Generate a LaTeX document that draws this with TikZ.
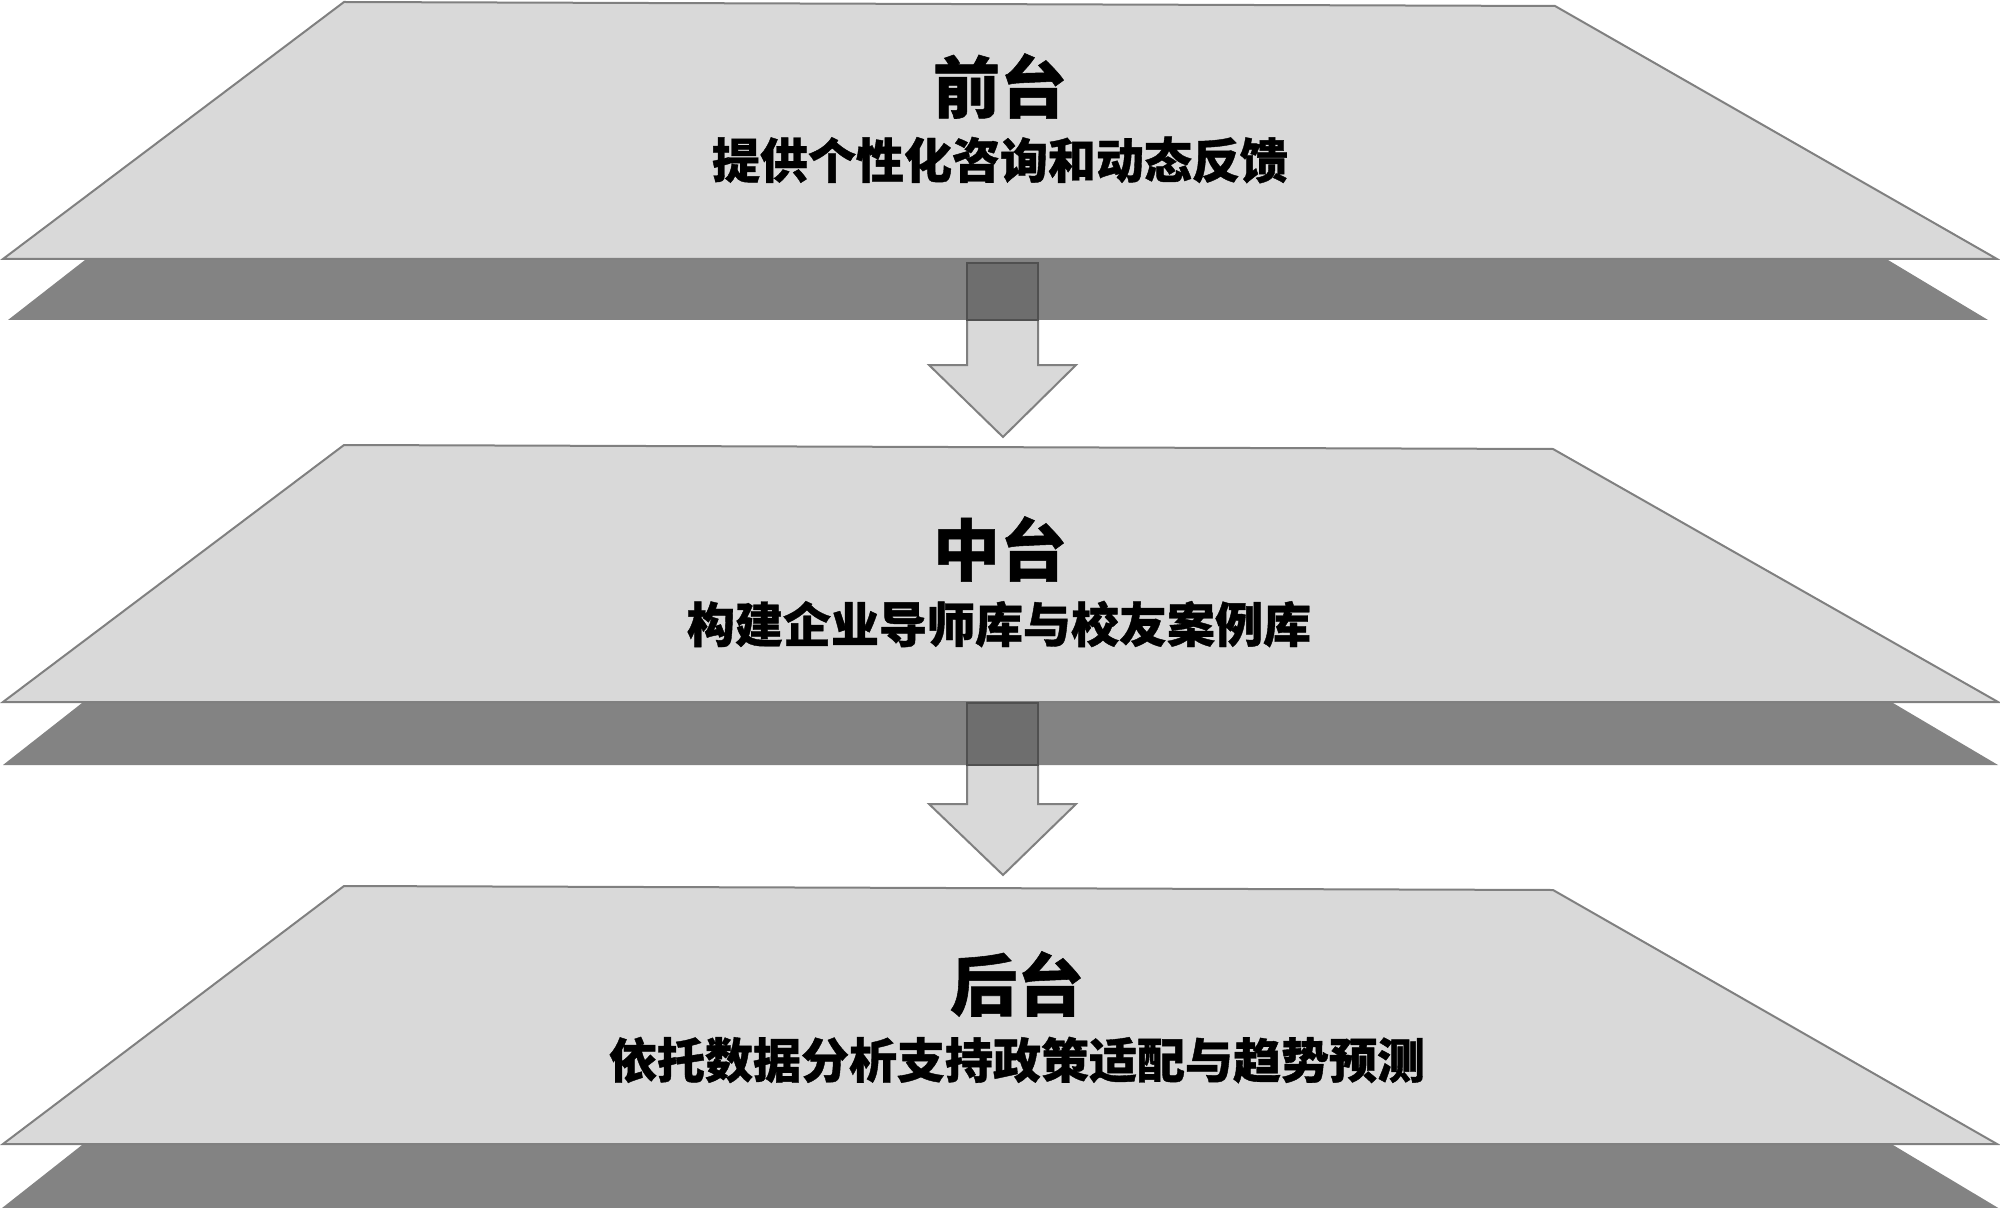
\documentclass[tikz,border=0pt]{standalone}
\usepackage{fontspec}
\newfontfamily\cjk{Noto Sans CJK SC}[BoldFeatures={FakeBold=0.8}]
\definecolor{plateLight}{HTML}{D9D9D9}
\definecolor{plateEdge}{HTML}{808080}
\definecolor{plateDark}{HTML}{838383}
\definecolor{arrowOver}{HTML}{6E6E6E}
\definecolor{arrowOverEdge}{HTML}{505050}
\begin{document}
\begin{tikzpicture}[x=0.5pt,y=-0.5pt,
  lightplate/.style={fill=plateLight,draw=plateEdge,line width=1pt,line join=miter},
  darkplate/.style={fill=plateDark},
  blockarrow/.style={fill=plateLight,draw=plateEdge,line width=1pt,line join=miter},
  overlapbox/.style={fill=arrowOver,draw=arrowOverEdge,line width=0.8pt},
  titletext/.style={font=\cjk\bfseries\fontsize{33.5}{40}\selectfont,text=black,inner sep=0pt},
  subtext/.style={font=\cjk\bfseries\fontsize{24}{29}\selectfont,text=black,inner sep=0pt}]
\useasboundingbox (0,0) rectangle (2000,1208);
\clip (0,0) rectangle (2000,1208);
% top layer
\path[darkplate] (85,260) -- (1888,260) -- (1988,320) -- (8,320) -- cycle;
\path[lightplate] (344,2) -- (1555,6) -- (1997,259) -- (3,259) -- cycle;
% middle layer
\path[darkplate] (82,703) -- (1893,703) -- (1998,765) -- (3,765) -- cycle;
\path[lightplate] (344,445) -- (1553,449) -- (1998,702) -- (3,702) -- cycle;
% bottom layer
\path[darkplate] (82,1145) -- (1893,1145) -- (2005,1212) -- (-3,1212) -- cycle;
\path[lightplate] (344,886) -- (1553,890) -- (1997,1144) -- (3,1144) -- cycle;
% arrows
\coordinate (a1top) at (1002.5,263);
\coordinate (a1tip) at (1003,437);
\coordinate (a2top) at (1002.5,703);
\coordinate (a2tip) at (1003,875);
\path[blockarrow] (967,263) -- (1038,263) -- (1038,365) -- (1076,365) -- (a1tip) -- (929,365) -- (967,365) -- cycle;
\path[overlapbox] (967,263) rectangle (1038,320);
\path[blockarrow] (967,703) -- (1038,703) -- (1038,804) -- (1076,804) -- (a2tip) -- (929,804) -- (967,804) -- cycle;
\path[overlapbox] (967,703) rectangle (1038,765);
% texts
\node[titletext] (t1) at (1000,86) {前台};
\node[subtext] (s1) at (1000,160) {提供个性化咨询和动态反馈};
\node[titletext] (t2) at (1000,549) {中台};
\node[subtext] (s2) at (999,624) {构建企业导师库与校友案例库};
\node[titletext] (t3) at (1017,984) {后台};
\node[subtext] (s3) at (1017,1060) {依托数据分析支持政策适配与趋势预测};
\end{tikzpicture}
\end{document}
